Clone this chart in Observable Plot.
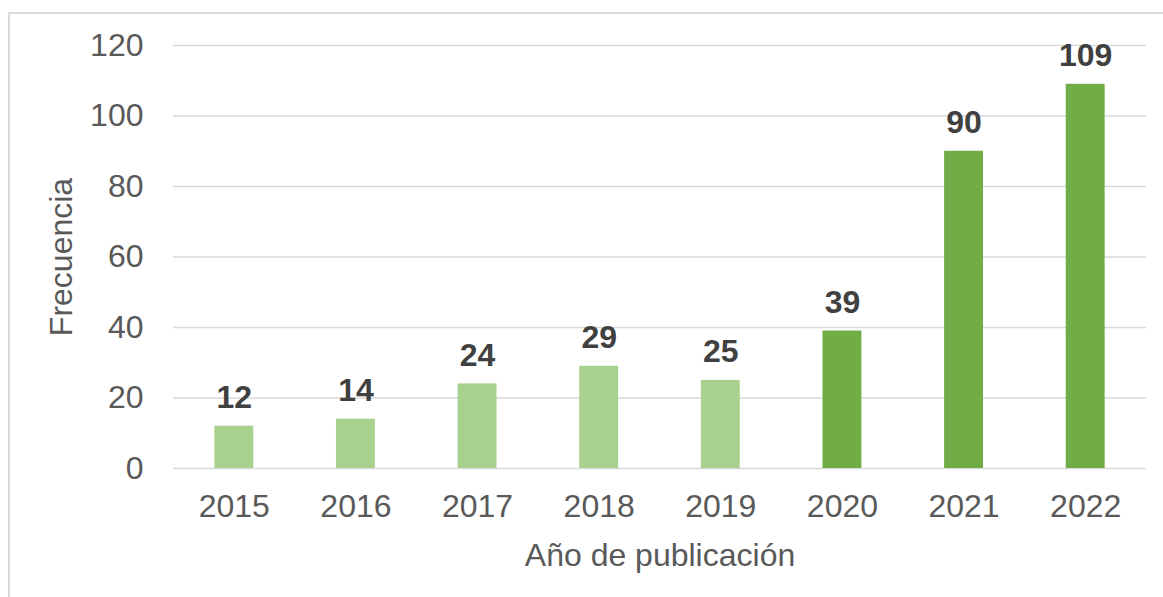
<!DOCTYPE html>
<html>
<head>
<meta charset="utf-8">
<script src="https://cdn.jsdelivr.net/npm/d3@7"></script>
<script src="https://cdn.jsdelivr.net/npm/@observablehq/plot@0.6"></script>
<style>
html, body { margin: 0; padding: 0; background: #fff; overflow: hidden; }
#wrap { position: relative; width: 1163px; height: 597px; }
#frame { position: absolute; left: 8px; top: 12px; right: 0; bottom: 0;
  border-top: 2px solid #d9d9d9; border-left: 2px solid #d9d9d9; pointer-events: none; }
</style>
</head>
<body>
<div id="wrap"><div id="chart"></div><div id="frame"></div></div>
<script>
const years = ["2015", "2016", "2017", "2018", "2019", "2020", "2021", "2022"];
const counts = [12, 14, 24, 29, 25, 39, 90, 109];
const periods = ["2015–2019", "2015–2019", "2015–2019", "2015–2019", "2015–2019", "2020–2022", "2020–2022", "2020–2022"];
const periodNames = ["2015–2019", "2020–2022"];
const yTicks = [0, 20, 40, 60, 80, 100, 120];
const xTitle = "Año de publicación";
const yTitle = "Frecuencia";

const data = years.map((year, i) => ({year, count: counts[i], period: periods[i]}));

const chart = Plot.plot({
  width: 1163,
  height: 597,
  marginTop: 45,
  marginBottom: 129,
  marginLeft: 173,
  marginRight: 17,
  style: {
    fontFamily: '"Liberation Sans", Arial, sans-serif',
    fontSize: "32px",
    color: "#595959",
    background: "#fff",
    overflow: "visible"
  },
  x: {domain: years, paddingInner: 0.68, paddingOuter: 0.34, round: false, label: null},
  y: {domain: [0, 120], label: null},
  color: {domain: periodNames, range: ["#a9d18e", "#70ad47"]},
  marks: [
    Plot.ruleY(yTicks, {stroke: "#d9d9d9", strokeWidth: 1.6}),
    Plot.barY(data, {x: "year", y: "count", fill: "period"}),
    Plot.text(data, {x: "year", y: "count", text: d => String(d.count), dy: -18, lineAnchor: "bottom",
      fontWeight: "bold", fontSize: 32, fill: "#404040"}),
    Plot.axisX({tickSize: 0, tickPadding: 26, fontSize: 32, label: xTitle, labelAnchor: "center", labelOffset: 97}),
    Plot.axisY({ticks: yTicks, tickSize: 0, tickPadding: 30, fontSize: 32, label: yTitle,
      labelAnchor: "center", labelOffset: 124, labelArrow: "none"})
  ]
});
document.getElementById("chart").appendChild(chart);
</script>
</body>
</html>
